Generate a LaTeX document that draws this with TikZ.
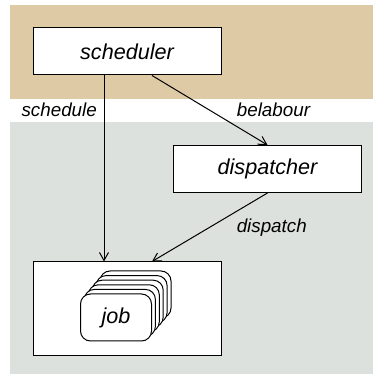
\documentclass[tikz,border=0pt]{standalone}
\usepackage{tikz}
\usepackage{xcolor}
\usepackage{fontspec}
\setmainfont{Liberation Sans}
\usetikzlibrary{shapes.geometric, arrows.meta, positioning}
\definecolor{tanband}{HTML}{DFCAA6}
\definecolor{greyband}{HTML}{DDE1DE}
\tikzstyle{process} = [rectangle, minimum width=94pt, minimum height=23.5pt, inner sep=0pt, text centered, draw=black, fill=white, line width=0.5pt, font=\fontsize{10.8}{13}\selectfont\itshape]
\tikzstyle{card} = [rectangle, rounded corners=5pt, minimum width=35.5pt, minimum height=23.5pt, inner sep=0pt, draw=black, fill=white, line width=0.5pt, font=\fontsize{10.8}{13}\selectfont\itshape]
\tikzstyle{lbl} = [font=\fontsize{9.4}{11}\selectfont\itshape]
\tikzstyle{arrow} = [line width=0.5pt,->,>={Straight Barb[length=4pt,width=4.5pt]}]

\begin{document}
\begin{tikzpicture}[x=1pt, y=1pt, node distance=58.75pt]
    \useasboundingbox (0,0) rectangle (186.5,187.5);
    \fill[tanband] (5,138) rectangle (186.5,185);
    \fill[greyband] (5,0.5) rectangle (186.5,126.5);

    \node (sched) [process] at (63.5,161.75) {scheduler};
    \node (disp) [process, below of = sched, xshift=70.25pt] {dispatcher};
    \node (job) [process, below of = sched, node distance=128.75pt, minimum height=47pt] {};

    % stacked jobs, back to front
    \foreach \i in {5,4,...,1}
        \node (card\i) [card, xshift=1.95*\i pt, yshift=2.3*\i pt] at ([shift={(-5.5pt,-4.25pt)}]job.center) {};
    \node (front) [card] at ([shift={(-5.5pt,-4.25pt)}]job.center) {job};

    \draw[arrow] ([xshift=-11.5pt]sched.south) -- node[lbl, pos=0.187, left] {schedule} ([xshift=-11.5pt]job.north);
    \draw[arrow] ([xshift=12.5pt]sched.south) -- node[lbl, pos=0.5, right=10pt] {belabour} (disp.north);
    \draw[arrow] (disp.south) -- node[lbl, pos=0.51, right=10.5pt] {dispatch} ([xshift=12.5pt]job.north);
\end{tikzpicture}
\end{document}
